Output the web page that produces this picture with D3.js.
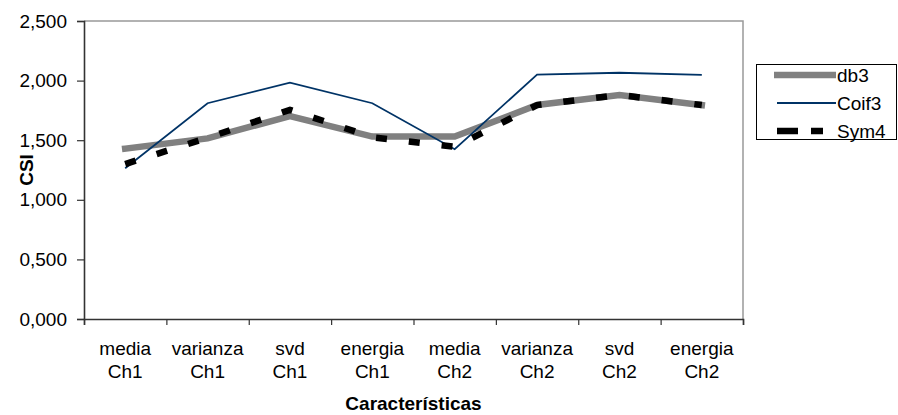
<!DOCTYPE html>
<html>
  <head>
    <title>CSI por caracteristica</title>
    <script src="https://d3js.org/d3.v7.min.js"></script>
    <style>
      body { margin: 0; background: #fff; }
      text { font-family: "Liberation Sans", Arial, sans-serif; fill: #000; }
    </style>
  </head>
  <body>
    <script>
      var width = 898;
      var height = 415;
      var margin = {top: 21, left: 84, right: 155, bottom: 96};

      // data
      var categories = ["media Ch1", "varianza Ch1", "svd Ch1", "energia Ch1",
                        "media Ch2", "varianza Ch2", "svd Ch2", "energia Ch2"];
      var db3   = [1.429, 1.515, 1.703, 1.530, 1.530, 1.795, 1.880, 1.795];
      var coif3 = [1.264, 1.810, 1.983, 1.810, 1.424, 2.050, 2.066, 2.048];
      var sym4  = [1.300, 1.520, 1.755, 1.525, 1.445, 1.795, 1.880, 1.795];
      var yTicks = [0, 0.5, 1, 1.5, 2, 2.5];
      var seriesNames = ["db3", "Coif3", "Sym4"];

      var svg = d3.select("body")
        .append("svg")
        .attr("width", width)
        .attr("height", height);

      var xScale = d3.scaleBand()
        .domain(categories)
        .range([margin.left, width - margin.right])
        .padding(0);

      var edgeScale = d3.scaleLinear()
        .domain([0, categories.length])
        .range([margin.left, width - margin.right]);

      var yScale = d3.scaleLinear()
        .domain([0, 2.5])
        .range([height - margin.bottom, margin.top]);

      var comma = d3.formatLocale({decimal: ",", thousands: ".", grouping: [3], currency: ["", ""]});

      // plot area border (top / right, gray)
      svg.append("path")
        .attr("d", `M${margin.left},${margin.top}H${width - margin.right}V${height - margin.bottom}`)
        .attr("fill", "none")
        .attr("stroke", "#999")
        .attr("stroke-width", 1.5);

      var yAxis = svg.append("g")
        .attr("transform", `translate(${margin.left},0)`)
        .call(d3.axisLeft(yScale).tickValues(yTicks).tickSize(7).tickPadding(10)
          .tickFormat(comma.format(".3f")));

      var xAxis = svg.append("g")
        .attr("transform", `translate(0,${height - margin.bottom})`)
        .call(d3.axisBottom(edgeScale).tickValues(d3.range(categories.length + 1))
          .tickSize(6).tickFormat(""));

      svg.selectAll(".domain").attr("stroke", "#333").attr("stroke-width", 1.6);
      svg.selectAll(".tick line").attr("stroke", "#333").attr("stroke-width", 1.2);
      yAxis.selectAll("text").style("font-size", "19px").attr("fill", "#000");

      var xLabels = svg.append("g")
        .selectAll("text")
        .data(categories)
        .enter()
        .append("text")
          .attr("text-anchor", "middle")
          .style("font-size", "19px");
      xLabels.each(function(d) {
        var parts = d.split(" ");
        var cx = xScale(d) + xScale.bandwidth() / 2;
        d3.select(this).append("tspan").attr("x", cx).attr("y", 355).text(parts[0]);
        d3.select(this).append("tspan").attr("x", cx).attr("y", 378).text(parts[1]);
      });

      var line = function(values) {
        return d3.line()
          .x(function(d, i) { return xScale(categories[i]) + xScale.bandwidth() / 2; })
          .y(function(d) { return yScale(d); })(values);
      };

      svg.append("path")
        .attr("d", line(db3))
        .attr("fill", "none")
        .attr("stroke", "#808080")
        .attr("stroke-width", 6.5)
        .attr("stroke-linecap", "square");

      svg.append("path")
        .attr("d", line(coif3))
        .attr("fill", "none")
        .attr("stroke", "#003366")
        .attr("stroke-width", 1.8);

      svg.append("path")
        .attr("d", line(sym4))
        .attr("fill", "none")
        .attr("stroke", "#000")
        .attr("stroke-width", 6.5)
        .attr("stroke-dasharray", "11,22");

      svg.append("text")
        .attr("x", (margin.left + width - margin.right) / 2)
        .attr("y", 410)
        .attr("text-anchor", "middle")
        .style("font-size", "19px")
        .style("font-weight", "bold")
        .text("Características");

      svg.append("text")
        .attr("transform", "translate(33,170) rotate(-90)")
        .attr("text-anchor", "middle")
        .style("font-size", "19px")
        .style("font-weight", "bold")
        .text("CSI");

      // legend
      var legend = svg.append("g");
      legend.append("rect")
        .attr("x", 756.5)
        .attr("y", 64.5)
        .attr("width", 140)
        .attr("height", 75)
        .attr("fill", "#fff")
        .attr("stroke", "#000")
        .attr("stroke-width", 1);

      var legendY = [75, 103, 131];
      legend.append("line")
        .attr("x1", 774).attr("x2", 836).attr("y1", legendY[0]).attr("y2", legendY[0])
        .attr("stroke", "#808080").attr("stroke-width", 6.5);
      legend.append("line")
        .attr("x1", 777).attr("x2", 836).attr("y1", legendY[1]).attr("y2", legendY[1])
        .attr("stroke", "#003366").attr("stroke-width", 1.8);
      legend.append("line")
        .attr("x1", 777).attr("x2", 823).attr("y1", legendY[2]).attr("y2", legendY[2])
        .attr("stroke", "#000").attr("stroke-width", 6.5)
        .attr("stroke-dasharray", "21,13");

      legend.selectAll(".lbl")
        .data(seriesNames)
        .enter()
        .append("text")
          .attr("class", "lbl")
          .attr("x", 837)
          .attr("y", function(d, i) { return legendY[i]; })
          .attr("dy", "0.36em")
          .style("font-size", "19px")
          .text(function(d) { return d; });
    </script>
  </body>
</html>
